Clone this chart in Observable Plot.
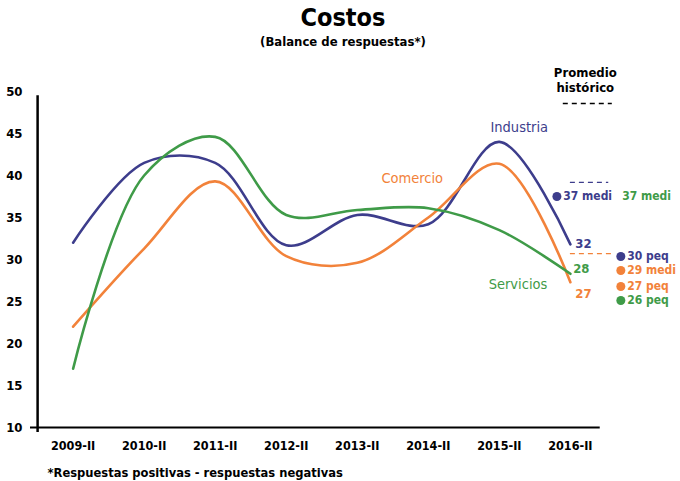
<!DOCTYPE html>
<html><head><meta charset="utf-8">
<script src="https://cdn.jsdelivr.net/npm/d3@7"></script>
<script src="https://cdn.jsdelivr.net/npm/@observablehq/plot@0.6"></script>
<style>
body{margin:0;background:#fff;font-family:"DejaVu Sans Condensed","DejaVu Sans",sans-serif;}
#wrap{width:680px;position:relative;}
#head{height:55px;position:relative;}
#title{position:absolute;left:0;width:686px;text-align:center;top:3px;font-size:25px;font-weight:bold;color:#000;}
#sub{position:absolute;left:0;width:686px;text-align:center;top:34px;font-size:13px;font-weight:bold;color:#000;}
#chart svg{display:block;}
</style></head>
<body><div id="wrap">
<div id="head"><div id="title">Costos</div><div id="sub">(Balance de respuestas*)</div></div>
<div id="chart"></div>
</div>
<script>
const periods = ["2009-II","2010-II","2011-II","2012-II","2013-II","2014-II","2015-II","2016-II"];
const industria = [32, 41.5, 41.5, 31.7, 35.3, 34.2, 44, 31.8];
const comercio  = [22, 31.3, 39.3, 30.4, 29.6, 35, 41.4, 27.3];
const servicios = [17, 40, 44.6, 35.3, 35.9, 36.1, 33.5, 28.3];
const yTicks = [10,15,20,25,30,35,40,45,50];
const colors = {Industria:"#3d3d8c", Comercio:"#f2823a", Servicios:"#3f9b48"};
const footnote = "*Respuestas positivas - respuestas negativas";

// annotation texts (position in chart units)
const seriesLabels = [
  {x:5.875, y:45.7, text:"Industria", c:colors.Industria},
  {x:4.34, y:39.64, text:"Comercio", c:colors.Comercio},
  {x:5.85, y:27.0, text:"Servicios", c:colors.Servicios}
];
const endLabels = [
  {x:7.07, y:31.9, text:"32", c:colors.Industria},
  {x:7.04, y:28.93, text:"28", c:colors.Servicios},
  {x:7.07, y:25.95, text:"27", c:colors.Comercio}
];
const promedio = [
  {x:6.90, y:37.5, text:"37 medi", c:colors.Industria, dot:true},
  {x:7.73, y:37.5, text:"37 medi", c:colors.Servicios, dot:false},
  {x:7.80, y:30.36, text:"30 peq", c:colors.Industria, dot:true},
  {x:7.80, y:28.69, text:"29 medi", c:colors.Comercio, dot:true},
  {x:7.80, y:26.79, text:"27 peq", c:colors.Comercio, dot:true},
  {x:7.80, y:25.12, text:"26 peq", c:colors.Servicios, dot:true}
];
const dashes = [
  {x1:6.90, x2:7.59, y:48.57, c:"#000"},
  {x1:7.00, x2:7.54, y:39.17, c:colors.Industria},
  {x1:7.00, x2:7.59, y:30.71, c:colors.Comercio}
];

const rows = [];
periods.forEach((p,i)=>{
  rows.push({i, s:"Industria", v:industria[i]});
  rows.push({i, s:"Comercio", v:comercio[i]});
  rows.push({i, s:"Servicios", v:servicios[i]});
});

const chart = Plot.plot({
  width:680, height:426,
  marginLeft:30, marginRight:0, marginTop:36, marginBottom:54,
  style:{fontFamily:'"DejaVu Sans Condensed","DejaVu Sans",sans-serif', background:"#fff"},
  x:{type:"linear", domain:[-0.6, 8.55], axis:null},
  y:{domain:[10,50], axis:null},
  marks:[
    Plot.axisY({ticks:yTicks, tickSize:0, tickPadding:8, fontSize:13, fontWeight:"bold", fill:"#000"}),
    Plot.axisX({ticks:d3.range(periods.length), tickFormat:i=>periods[i], tickSize:0, tickPadding:14, fontSize:12.5, fontWeight:"bold", fill:"#000"}),
    Plot.ruleY([10], {x1:-0.6, x2:7.42, stroke:"#000", strokeWidth:2}),
    Plot.ruleX([-0.5], {y1:9.4, y2:49.5, stroke:"#000", strokeWidth:2.5}),
    Plot.line(rows, {x:"i", y:"v", z:"s", stroke:d=>colors[d.s], curve:"catmull-rom", strokeWidth:2.6}),
    Plot.ruleY(dashes, {y:"y", x1:"x1", x2:"x2", stroke:"c", strokeDasharray:"5,4", strokeWidth:1.3}),
    Plot.text(seriesLabels, {x:"x", y:"y", text:"text", fill:"c", textAnchor:"start", fontSize:14.5, fontWeight:"500"}),
    Plot.text(endLabels, {x:"x", y:"y", text:"text", fill:"c", textAnchor:"start", fontSize:13, fontWeight:"bold"}),
    Plot.dot(promedio.filter(d=>d.dot), {x:d=>d.x-0.09, y:"y", r:4.5, fill:"c"}),
    Plot.text(promedio, {x:"x", y:"y", text:"text", fill:"c", textAnchor:"start", fontSize:12, fontWeight:"bold"}),
    Plot.text(["Promedio","histórico"], {x:7.21, y:(d,i)=>[52.26,50.48][i], text:d=>d, fill:"#000", fontSize:13, fontWeight:"bold"}),
    Plot.text([footnote], {x:-0.6, y:10, dx:17, dy:45, text:d=>d, textAnchor:"start", fill:"#000", fontSize:12.8, fontWeight:"bold"})
  ]
});
document.getElementById("chart").appendChild(chart);
</script>
</body></html>
